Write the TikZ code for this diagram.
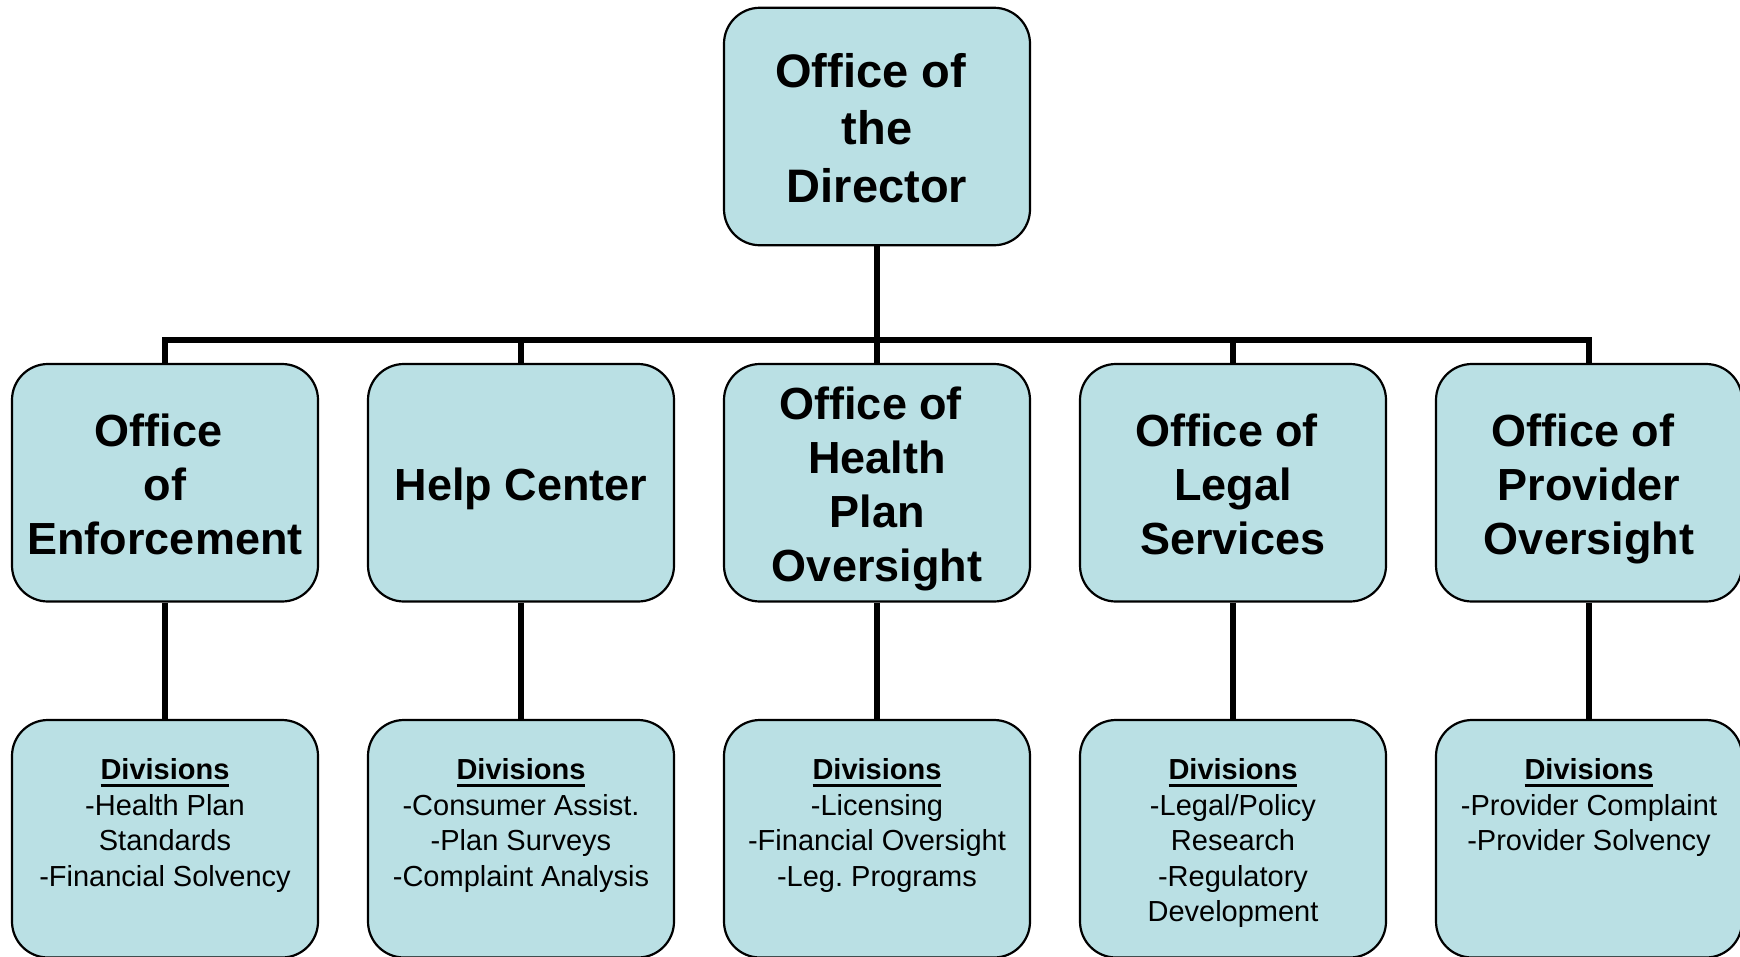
\documentclass[tikz,border=0pt]{standalone}
\usepackage{fontspec}
\setmainfont{Liberation Sans}
\frenchspacing
\definecolor{boxfill}{RGB}{186,224,228}
\newcommand\tsp{\hspace*{0.278em}}
\newcommand\tstrut{\vrule width 0pt height 1.005em depth 0pt\relax}
\newcommand\bstrut{\vrule width 0pt height 0pt depth 0.22em\relax}
\newcommand\dvul[1]{\setbox0\hbox{#1}\rlap{\rule[-7.5pt]{\wd0}{3.2pt}}\box0}
\begin{document}
\begin{tikzpicture}[x=1pt,y=-1pt,
  shapebox/.style={draw=black, line width=2.2pt, fill=boxfill, rounded corners=36pt,
    minimum width=306pt, minimum height=237.5pt, inner sep=0pt},
  orgbox/.style={shapebox, align=center},
  topfont/.style={font=\fontsize{47}{57.5}\selectfont\bfseries},
  midfont/.style={font=\fontsize{45}{54}\selectfont\bfseries},
  divtext/.style={font=\fontsize{29}{35.5}\selectfont, align=center, inner sep=0pt,
    anchor=north},
  conn/.style={draw=black, line width=5.8pt}]
\useasboundingbox (0,0) rectangle (1740,956);

% top
\node[orgbox, topfont] (top) at (877,126.5) {\tstrut Office of\tsp\\the\tsp\\\bstrut Director};

% second row
\node[orgbox, midfont] (b1) at (165,482.75) {\tstrut Office\tsp\\of\tsp\\\bstrut Enforcement};
\node[orgbox, midfont] (b2) at (521,482.75) {\tstrut\bstrut Help Center};
\node[orgbox, midfont] (b3) at (877,482.75) {\tstrut Office of\tsp\\Health\\Plan\tsp\\\bstrut Oversight};
\node[orgbox, midfont] (b4) at (1233,482.75) {\tstrut Office of\tsp\\Legal\tsp\\\bstrut Services};
\node[orgbox, midfont] (b5) at (1589,482.75) {\tstrut Office of\tsp\\Provider\tsp\\\bstrut Oversight};

% third row
\node[shapebox] (d1) at (165,838.75) {};
\node[shapebox] (d2) at (521,838.75) {};
\node[shapebox] (d3) at (877,838.75) {};
\node[shapebox] (d4) at (1233,838.75) {};
\node[shapebox] (d5) at (1589,838.75) {};

\node[divtext] (d1t) at ([yshift=-31.5pt]d1.north) {\tstrut\dvul{\bfseries Divisions}\\-Health Plan\tsp\\Standards\\-Financial Solvency};
\node[divtext] (d2t) at ([yshift=-31.5pt]d2.north) {\tstrut\dvul{\bfseries Divisions}\\-Consumer Assist.\\-Plan Surveys\\-Complaint Analysis};
\node[divtext] (d3t) at ([yshift=-31.5pt]d3.north) {\tstrut\dvul{\bfseries Divisions}\\-Licensing\\-Financial Oversight\\-Leg. Programs};
\node[divtext] (d4t) at ([yshift=-31.5pt]d4.north) {\tstrut\dvul{\bfseries Divisions}\\-Legal/Policy\tsp\\Research\\-Regulatory\tsp\\Development};
\node[divtext] (d5t) at ([yshift=-31.5pt]d5.north) {\tstrut\dvul{\bfseries Divisions}\\-Provider Complaint\\-Provider Solvency};

% connectors
\coordinate (bar) at (877,340);
\draw[conn] (b1.north) |- (bar) -| (b5.north);
\draw[conn] (top.south) -- (b3.north);
\draw[conn] (b2.north) -- (b2.north |- bar);
\draw[conn] (b4.north) -- (b4.north |- bar);
\draw[conn] (b1.south) -- (d1.north);
\draw[conn] (b2.south) -- (d2.north);
\draw[conn] (b3.south) -- (d3.north);
\draw[conn] (b4.south) -- (d4.north);
\draw[conn] (b5.south) -- (d5.north);
\end{tikzpicture}
\end{document}
